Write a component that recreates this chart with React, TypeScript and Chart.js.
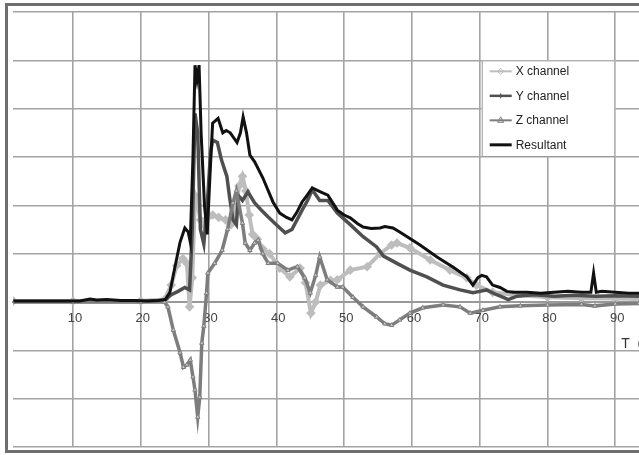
import React, { useEffect, useRef } from "react";
import { Chart, registerables } from "chart.js";

Chart.register(...registerables);

// ---- data ----
const xTickValues = [10, 20, 30, 40, 50, 60, 70, 80, 90];
const axisTitle = "T  (ms)";

const xChannelT = [1.2, 10, 20, 23.5, 24.5, 25.3, 26.2, 26.8, 27.2, 27.6, 28.0, 28.4, 28.8, 29.3, 29.9, 30.6, 31.5, 32.5, 33.3, 34.0, 34.5, 35.0, 35.5, 36.0, 36.5, 37.2, 38, 39, 40.5, 42, 43.5, 44.3, 45.1, 45.8, 46.5, 48, 49, 50.9, 53.4, 55.3, 57, 57.8, 59.7, 62.7, 65.6, 68.1, 69.5, 71.9, 75, 80, 85, 90, 93.5];
const xChannelV = [0.02, 0.02, 0.02, 0.05, 0.35, 0.75, 0.9, 0.8, -0.1, 0.5, 2.2, 2.0, 1.7, 1.6, 1.75, 1.8, 1.75, 1.7, 1.6, 1.9, 2.4, 2.6, 2.3, 1.8, 1.4, 1.3, 1.1, 1.0, 0.7, 0.52, 0.7, 0.4, -0.23, 0.0, 0.35, 0.45, 0.46, 0.66, 0.73, 1.0, 1.18, 1.22, 1.12, 0.87, 0.66, 0.5, 0.35, 0.2, 0.15, 0.1, 0.08, 0.07, 0.06];

const yChannelT = [1.2, 10, 20, 23.5, 24.5, 25.5, 26.5, 27.2, 27.6, 28.0, 28.4, 28.8, 29.3, 29.8, 30.3, 30.6, 31.3, 31.9, 32.7, 33.1, 33.6, 34.1, 34.4, 35, 35.8, 36.8, 37.8, 38.8, 40, 41.3, 42.3, 43.8, 44.6, 45.3, 46.4, 47.6, 49, 50.9, 52.8, 54.8, 55.8, 57.8, 59.7, 62.2, 64.6, 67.1, 69, 70, 71, 72.5, 73.4, 74.2, 75.5, 78, 81, 84, 87, 90, 93.5];
const yChannelV = [0.01, 0.01, 0.01, 0.03, 0.15, 0.22, 0.3, 0.25, 1.5, 3.9, 3.5, 1.5, 1.2, 2.0, 3.1, 3.35, 3.3, 2.94, 2.6, 2.17, 1.7, 1.6, 2.2, 2.1, 2.28, 2.05, 1.9, 1.76, 1.6, 1.43, 1.5, 1.9, 2.1, 2.32, 2.1, 2.1, 1.84, 1.6, 1.35, 1.14, 0.95, 0.8, 0.66, 0.52, 0.35, 0.25, 0.19, 0.22, 0.25, 0.15, 0.1, 0.05, 0.12, 0.15, 0.12, 0.14, 0.12, 0.13, 0.12];

const zChannelT = [1.2, 10, 20, 23.5, 24, 24.8, 25.8, 26.3, 26.8, 27.3, 27.7, 28.0, 28.4, 28.7, 29.0, 29.3, 29.7, 29.9, 30.9, 32, 32.8, 33.6, 34.1, 35, 35.4, 36.1, 36.8, 37.3, 38, 38.8, 40.2, 41.7, 43.1, 44.2, 45, 45.8, 46.4, 47.5, 49, 49.8, 51.3, 52.8, 54.8, 56, 57, 58.2, 59.7, 61.6, 64.6, 67.1, 68.6, 70.5, 73, 76, 80, 85, 87, 90, 93.5];
const zChannelV = [0, 0, 0, 0, -0.1, -0.58, -1.05, -1.35, -1.3, -1.2, -1.55, -1.82, -2.38, -1.97, -0.85, -0.5, 0.18, 0.6, 0.8, 1.07, 1.5, 2.05, 2.3, 1.63, 1.22, 1.07, 1.22, 1.28, 1.0, 0.8, 0.8, 0.66, 0.73, 0.5, 0.19, 0.55, 0.93, 0.46, 0.31, 0.31, 0.1, -0.1, -0.31, -0.45, -0.48, -0.37, -0.23, -0.12, -0.06, -0.1, -0.23, -0.17, -0.1, -0.08, -0.06, -0.05, -0.08, -0.04, -0.03];

const resultantT = [1.2, 4, 8, 11, 12.5, 13.5, 15, 17, 19, 21, 22.5, 23.6, 24.3, 24.8, 25.8, 26.5, 27.0, 27.3, 27.7, 28.0, 28.3, 28.6, 28.9, 29.4, 29.8, 30.2, 30.6, 31.4, 32.1, 32.6, 33.2, 34.2, 34.7, 35.1, 35.6, 36.1, 36.8, 38, 39.5, 40.5, 41.5, 42.3, 43, 43.8, 44.5, 45.3, 46.5, 47.6, 49, 50, 50.9, 52, 52.8, 54, 55.3, 56, 57.2, 58.2, 59.3, 61.2, 63.7, 66.1, 68.1, 69, 69.7, 70.3, 71, 71.9, 73, 74, 75, 77, 79, 81, 83, 85, 86.4, 86.8, 87.2, 88, 90, 92, 93.5];
const resultantV = [0.02, 0.02, 0.02, 0.02, 0.06, 0.04, 0.05, 0.03, 0.03, 0.02, 0.03, 0.05, 0.2, 0.56, 1.24, 1.53, 1.45, 1.24, 3.0, 4.9, 4.6, 4.9, 3.5, 2.0, 1.4, 2.6, 3.7, 3.8, 3.5, 3.55, 3.5, 3.3, 3.5, 3.83, 3.5, 3.04, 2.9, 2.57, 2.07, 1.84, 1.75, 1.7, 1.85, 2.07, 2.2, 2.36, 2.28, 2.21, 1.9, 1.8, 1.74, 1.62, 1.55, 1.52, 1.53, 1.56, 1.53, 1.45, 1.35, 1.18, 0.93, 0.72, 0.52, 0.35, 0.5, 0.55, 0.52, 0.35, 0.3, 0.22, 0.2, 0.2, 0.18, 0.2, 0.22, 0.2, 0.2, 0.6, 0.2, 0.22, 0.2, 0.18, 0.18];

const seriesNames = ["X channel", "Y channel", "Z channel", "Resultant"];

const toPoints = (t: number[], v: number[]) => t.map((x, i) => ({ x, y: v[i] }));

const COLORS = {
  x: "#bdbdbd",
  y: "#4f4f4f",
  z: "#7d7d7d",
  r: "#111111",
  grid: "#a3a3a3",
};

// the canvas is drawn a little wider than the visible window; the page clips it
const CANVAS_W = 660;
const VIEW_W = 639;
const VIEW_H = 455;

const legendPlugin = {
  id: "customLegend",
  afterDraw(chart: any) {
    const ctx = chart.ctx as CanvasRenderingContext2D;
    const xs = chart.scales.x;
    const ys = chart.scales.y;
    // legend box aligned to grid cells (x 70..90, y 5..3)
    const left = xs.getPixelForValue(70) + 2;
    const right = xs.getPixelForValue(90);
    const top = ys.getPixelForValue(5);
    const bottom = ys.getPixelForValue(3);
    ctx.save();
    ctx.fillStyle = "#ffffff";
    ctx.fillRect(left, top, right - left, bottom - top);
    ctx.strokeStyle = "#9a9a9a";
    ctx.lineWidth = 1;
    ctx.strokeRect(left + 0.5, top + 0.5, right - left - 1, bottom - top - 1);

    const styles = [
      { c: COLORS.x, w: 2, m: "diamond" },
      { c: COLORS.y, w: 2.5, m: "dash" },
      { c: COLORS.z, w: 2, m: "triangle" },
      { c: COLORS.r, w: 3, m: "none" },
    ];
    ctx.font = "12px 'Liberation Sans', Arial, sans-serif";
    ctx.textBaseline = "middle";
    seriesNames.forEach((name, i) => {
      const cy = top + 11 + i * 24.5;
      const x0 = left + 8;
      const x1 = left + 30;
      const st = styles[i];
      ctx.strokeStyle = st.c;
      ctx.lineWidth = st.w;
      ctx.beginPath();
      ctx.moveTo(x0, cy);
      ctx.lineTo(x1, cy);
      ctx.stroke();
      const mx = (x0 + x1) / 2;
      ctx.lineWidth = 1;
      if (st.m === "diamond") {
        ctx.beginPath();
        ctx.moveTo(mx, cy - 3);
        ctx.lineTo(mx + 3, cy);
        ctx.lineTo(mx, cy + 3);
        ctx.lineTo(mx - 3, cy);
        ctx.closePath();
        ctx.stroke();
      } else if (st.m === "triangle") {
        ctx.beginPath();
        ctx.moveTo(mx, cy - 3.5);
        ctx.lineTo(mx + 3, cy + 2);
        ctx.lineTo(mx - 3, cy + 2);
        ctx.closePath();
        ctx.stroke();
      } else if (st.m === "dash") {
        ctx.beginPath();
        ctx.moveTo(mx, cy - 2.5);
        ctx.lineTo(mx, cy + 2.5);
        ctx.stroke();
      }
      ctx.fillStyle = "#222222";
      ctx.fillText(name, left + 34, cy + 0.5);
    });

    // axis title near the right end, below the zero line
    ctx.font = "14px 'Liberation Sans', Arial, sans-serif";
    ctx.fillStyle = "#333333";
    ctx.textBaseline = "middle";
    ctx.textAlign = "left";
    ctx.fillText(axisTitle, xs.getPixelForValue(90) + 6, ys.getPixelForValue(-0.87));
    ctx.restore();
  },
};

export default function App() {
  const canvasRef = useRef<HTMLCanvasElement | null>(null);

  useEffect(() => {
    const canvas = canvasRef.current;
    if (!canvas) return;
    const chart = new Chart(canvas, {
      type: "line",
      data: {
        datasets: [
          {
            label: seriesNames[0],
            data: toPoints(xChannelT, xChannelV),
            borderColor: COLORS.x,
            borderWidth: 4,
            pointStyle: "rectRot",
            pointRadius: 2,
            pointBorderColor: COLORS.x,
            pointBackgroundColor: COLORS.x,
            tension: 0,
            order: 4,
          },
          {
            label: seriesNames[1],
            data: toPoints(yChannelT, yChannelV),
            borderColor: COLORS.y,
            borderWidth: 3.5,
            pointRadius: 0,
            tension: 0,
            order: 3,
          },
          {
            label: seriesNames[2],
            data: toPoints(zChannelT, zChannelV),
            borderColor: COLORS.z,
            borderWidth: 3.5,
            pointStyle: "triangle",
            pointRadius: 2.5,
            pointBorderWidth: 1,
            pointBorderColor: COLORS.z,
            pointBackgroundColor: "rgba(255,255,255,0.6)",
            tension: 0,
            order: 2,
          },
          {
            label: seriesNames[3],
            data: toPoints(resultantT, resultantV),
            borderColor: COLORS.r,
            borderWidth: 3,
            pointRadius: 0,
            tension: 0,
            order: 1,
          },
        ],
      },
      options: {
        animation: false,
        responsive: false,
        maintainAspectRatio: false,
        layout: { padding: { left: 13, top: 12, right: CANVAS_W - VIEW_W, bottom: 7 } },
        plugins: {
          legend: { display: false },
          tooltip: { enabled: false },
        },
        scales: {
          x: {
            type: "linear",
            min: 1.15,
            max: 93.5,
            position: { y: 0 } as any,
            afterBuildTicks: (scale: any) => {
              scale.ticks = xTickValues.map((v) => ({ value: v }));
            },
            grid: { color: COLORS.grid, lineWidth: 1.6, drawTicks: false },
            border: { display: true, color: "#999999", width: 2 },
            ticks: {
              padding: 9,
              labelOffset: 2,
              maxRotation: 0,
              autoSkip: false,
              color: "#444444",
              font: { family: "'Liberation Sans', Arial, sans-serif", size: 13 },
            },
          },
          y: {
            type: "linear",
            min: -3,
            max: 6,
            ticks: { display: false, stepSize: 1 },
            grid: { color: COLORS.grid, lineWidth: 1.6, drawTicks: false },
            border: { display: false },
          },
        },
      },
      plugins: [legendPlugin],
    });
    return () => chart.destroy();
  }, []);

  return (
    <div
      style={{
        position: "fixed",
        left: 0,
        top: 0,
        width: VIEW_W,
        height: VIEW_H,
        overflow: "hidden",
        background: "#ffffff",
      }}
    >
      <div
        style={{
          position: "absolute",
          left: 5,
          top: 3,
          width: 700,
          height: 444,
          border: "3px solid #6f6f6f",
        }}
      />
      <canvas
        ref={canvasRef}
        width={CANVAS_W}
        height={VIEW_H}
        style={{ position: "absolute", left: 0, top: 0, width: CANVAS_W, height: VIEW_H }}
      />
    </div>
  );
}
